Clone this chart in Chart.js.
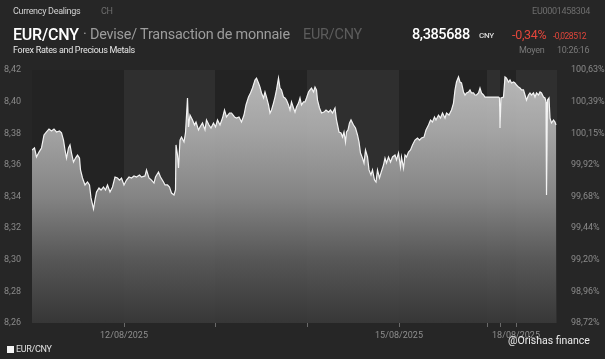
<!DOCTYPE html>
<html>
<head>
<meta charset="utf-8">
<script src="https://cdn.jsdelivr.net/npm/chart.js@4.4.1/dist/chart.umd.min.js"></script>
<style>
  html, body { margin: 0; padding: 0; background: #262626; }
  body { width: 605px; height: 359px; position: relative; overflow: hidden; font-family: Roboto, 'Noto Sans', sans-serif; }
  canvas { position: absolute; left: 0; top: 0; }
  .t { position: absolute; white-space: nowrap; line-height: 1; }
  .small { font-size: 9px; letter-spacing: -0.3px; }
  .big { font-size: 16px; letter-spacing: -0.2px; }
</style>
</head>
<body>
<canvas id="chart" width="605" height="359"></canvas>

<div class="t small" style="left:13px; top:7px; color:#d2d2d2">Currency Dealings</div>
<div class="t small" style="left:101px; top:7px; color:#6e6e6e">CH</div>
<div class="t small" style="right:15px; top:7px; color:#6e6e6e">EU0001458304</div>

<div class="t big" style="left:13px; top:27px; color:#fff; font-weight:500">EUR/CNY</div>
<div class="t" style="left:83px; top:28px; color:#9c9c9c; font-size:14.4px; letter-spacing:-0.2px">· Devise/ Transaction de monnaie</div>
<div class="t" style="left:303px; top:28px; color:#5c5c5c; font-size:14.4px; letter-spacing:-0.2px">EUR/CNY</div>
<div class="t" style="left:412px; top:28px; color:#fff; font-weight:500; font-size:14.5px; letter-spacing:-0.4px">8,385688</div>
<div class="t" style="left:479px; top:32px; color:#dcdcdc; font-weight:500; font-size:8px; letter-spacing:-0.3px">CNY</div>
<div class="t" style="left:512px; top:29px; color:#e2463b; font-size:12.5px; letter-spacing:-0.3px">-0,34%</div>
<div class="t" style="left:553px; top:32px; color:#e2463b; font-size:8.5px; letter-spacing:-0.5px">-0,028512</div>

<div class="t small" style="left:13px; top:46px; color:#e6e6e6">Forex Rates and Precious Metals</div>
<div class="t small" style="left:519px; top:46px; color:#7a7a7a">Moyen</div>
<div class="t small" style="left:557px; top:46px; color:#7a7a7a">10:26:16</div>

<div class="t" style="left:7px; top:346px; width:7px; height:7px; background:#f4f4f4"></div>
<div class="t small" style="left:16px; top:345px; color:#e0e0e0">EUR/CNY</div>
<div class="t" style="left:508px; top:336px; color:#ececec; font-size:10.5px">@Orishas finance</div>

<script>
// observation index along the x axis (weekends are compressed, as in the source chart)
const obsIndex = [
  0, 2.5, 4.5, 7, 9.5, 12, 14.5, 17, 19.5, 22, 24.5, 27.5, 29.5, 31.5, 33, 34.5, 36.5, 38, 39.5, 41.5,
  43.5, 45.5, 47.5, 48.5, 50.5, 53, 55.5, 57.5, 59, 61.5, 63, 64.5, 67, 69, 71.5, 73.5, 75.5, 78, 80.5, 83,
  85.5, 87.5, 89.5, 92, 94.5, 97, 99.5, 102, 104.5, 107.5, 109.5, 113, 114.5, 117, 119.5, 122, 123.5, 126.5, 128.5, 131.5,
  133, 135.5, 137.5, 139.5, 142, 143.5, 144, 145.5, 146.5, 148, 149.5, 152, 153.5, 155.5, 156.5, 158, 160.5, 162.5, 164, 166.5,
  168, 170.5, 173, 174.5, 177, 179, 181.5, 183.5, 185.5, 188, 190.5, 192.5, 194.5, 197.5, 199.5, 202.5, 204.5, 207, 209.5, 212,
  214, 216.5, 218.5, 220.5, 223, 224.5, 226.5, 228, 229.5, 231.5, 233, 234.5, 236.5, 238, 239.5, 241.5, 243, 244.5, 246.5, 248,
  249.5, 251.5, 253, 254.5, 256.5, 258, 259.5, 261.5, 263, 264.5, 266.5, 268, 269.5, 271.5, 273, 274.5, 276.5, 278, 279.5, 281.5,
  283, 284.5, 285.5, 287.5, 289.5, 292, 294, 296.5, 298.5, 300.5, 303, 304.5, 307, 309, 310.5, 312, 313.5, 314.5, 316, 317.5,
  319, 321.5, 323.5, 325.5, 327, 328.5, 330.5, 332, 333.5, 335.5, 337, 339, 340.5, 342.5, 344, 345.5, 347.5, 349, 351.5, 353,
  354.5, 356.5, 358.5, 360.5, 363, 364.5, 366.5, 368.5, 369.5, 371.5, 373, 374.5, 376.5, 378.5, 380.5, 383, 385.5, 387.5, 389.5, 392,
  394, 396.5, 398.5, 400.5, 402.5, 404, 406.5, 408.5, 410.5, 413, 414.5, 417, 418, 419.5, 421.5, 423, 424.5, 426.5, 428, 429.5,
  431.5, 433, 434.5, 436.5, 438, 439.5, 441.5, 443, 444.5, 446.5, 448, 449.5, 451.5, 453, 454.5, 461.5, 466.5, 467.5, 468, 469,
  471.5, 473, 474.5, 476.5, 478, 479.5, 481.5, 483, 484.5, 486.5, 488, 489.5, 491.5, 493, 494.5, 496.5, 498, 499.5, 501.5, 503,
  504.5, 506.5, 508, 509.5, 511.5, 513, 514, 514.5, 515.5, 517, 518, 519.5, 521.5, 523, 524,
]

const eurCny = [
  8.3694, 8.3707, 8.3650, 8.3681, 8.3707, 8.3789, 8.3808, 8.3827, 8.3814, 8.3827, 8.3808, 8.3814, 8.3802, 8.3757, 8.3694, 8.3643, 8.3707, 8.3726, 8.3675, 8.3618,
  8.3643, 8.3662, 8.3643, 8.3568, 8.3517, 8.3473, 8.3492, 8.3473, 8.3391, 8.3321, 8.3378, 8.3428, 8.3454, 8.3441, 8.3460, 8.3441, 8.3473, 8.3428, 8.3460, 8.3523,
  8.3517, 8.3504, 8.3517, 8.3473, 8.3504, 8.3523, 8.3517, 8.3530, 8.3523, 8.3536, 8.3523, 8.3530, 8.3568, 8.3517, 8.3504, 8.3485, 8.3523, 8.3555, 8.3523, 8.3492,
  8.3473, 8.3473, 8.3460, 8.3422, 8.3410, 8.3441, 8.3726, 8.3662, 8.3580, 8.3757, 8.3776, 8.3745, 8.3802, 8.4023, 8.3840, 8.3915, 8.3884, 8.3852, 8.3871, 8.3821,
  8.3840, 8.3865, 8.3821, 8.3884, 8.3852, 8.3833, 8.3865, 8.3840, 8.3884, 8.3852, 8.3896, 8.3947, 8.3903, 8.3928, 8.3928, 8.3903, 8.3896, 8.3903, 8.3871, 8.3915,
  8.3979, 8.4029, 8.4055, 8.4086, 8.4137, 8.4149, 8.4118, 8.4092, 8.4055, 8.4023, 8.4061, 8.4029, 8.3979, 8.3928, 8.3947, 8.3991, 8.4029, 8.4074, 8.4149, 8.4086,
  8.4074, 8.4029, 8.4023, 8.4010, 8.3979, 8.3947, 8.3998, 8.3960, 8.3934, 8.3966, 8.3991, 8.4023, 8.3979, 8.3998, 8.3998, 8.4023, 8.4061, 8.4074, 8.4086, 8.4061,
  8.4092, 8.4074, 8.4010, 8.3960, 8.3928, 8.3934, 8.3947, 8.3934, 8.3947, 8.3928, 8.3960, 8.3884, 8.3808, 8.3802, 8.3776, 8.3808, 8.3745, 8.3808, 8.3821, 8.3865,
  8.3884, 8.3852, 8.3833, 8.3789, 8.3745, 8.3675, 8.3643, 8.3612, 8.3694, 8.3650, 8.3568, 8.3536, 8.3568, 8.3504, 8.3492, 8.3568, 8.3517, 8.3549, 8.3599, 8.3643,
  8.3612, 8.3650, 8.3618, 8.3650, 8.3662, 8.3631, 8.3675, 8.3587, 8.3650, 8.3580, 8.3662, 8.3650, 8.3681, 8.3694, 8.3726, 8.3757, 8.3770, 8.3757, 8.3770, 8.3776,
  8.3821, 8.3852, 8.3884, 8.3871, 8.3903, 8.3884, 8.3915, 8.3896, 8.3928, 8.3896, 8.3928, 8.3915, 8.3928, 8.3947, 8.3991, 8.4074, 8.4124, 8.4156, 8.4124, 8.4118,
  8.4061, 8.4042, 8.4055, 8.4061, 8.4074, 8.4055, 8.4055, 8.4042, 8.4042, 8.4055, 8.4086, 8.4055, 8.4042, 8.4029, 8.4029, 8.4029, 8.4029, 8.4023, 8.3833, 8.4023,
  8.4029, 8.4156, 8.4149, 8.4124, 8.4137, 8.4118, 8.4124, 8.4118, 8.4105, 8.4092, 8.4086, 8.4074, 8.4074, 8.4042, 8.4010, 8.4042, 8.4055, 8.4042, 8.4055, 8.4029,
  8.4055, 8.4042, 8.4061, 8.4055, 8.4029, 8.4023, 8.3998, 8.3410, 8.4010, 8.4023, 8.3896, 8.3865, 8.3884, 8.3871, 8.3852,
]

// day boundaries on the observation index, and their dates
const dayStarts = [0, 92, 183, 275, 367, 455, 468, 484]
const dayNames = ['11/08/2025', '12/08/2025', '13/08/2025', '14/08/2025', '15/08/2025', '16/08/2025', '17/08/2025', '18/08/2025']
const shownDays = ['12/08/2025', '15/08/2025', '18/08/2025']
const lastIndex = 525

const priceTicks = [8.26, 8.28, 8.30, 8.32, 8.34, 8.36, 8.38, 8.40, 8.42]
const pctTicks = ['98,72%', '98,96%', '99,20%', '99,44%', '99,68%', '99,92%', '100,15%', '100,39%', '100,63%']

const points = []
for (let i = 0; i < eurCny.length; i++) {
  points.push({ x: obsIndex[i], y: eurCny[i] })
}

// dark plot background with lighter stripes on every other day
const dayBands = {
  id: 'dayBands',
  beforeDatasetsDraw (chart) {
    const { ctx, chartArea: a, scales } = chart
    ctx.save()
    ctx.fillStyle = '#232323'
    ctx.fillRect(a.left, a.top, a.right - a.left, a.bottom - a.top)
    ctx.fillStyle = '#2f2f2f'
    for (let i = 1; i < dayStarts.length; i += 2) {
      const x0 = scales.x.getPixelForValue(dayStarts[i])
      const end = i + 1 < dayStarts.length ? dayStarts[i + 1] : lastIndex
      const x1 = scales.x.getPixelForValue(end)
      ctx.fillRect(x0, a.top, x1 - x0, a.bottom - a.top)
    }
    ctx.restore()
  },
}

function areaFill (context) {
  const a = context.chart.chartArea
  if (!a) return 'rgba(160,160,160,0.9)'
  const g = context.chart.ctx.createLinearGradient(0, a.top, 0, a.bottom)
  g.addColorStop(0, 'rgba(196,196,196,0.93)')
  g.addColorStop(0.25, 'rgba(172,172,172,0.93)')
  g.addColorStop(0.5, 'rgba(140,140,140,0.92)')
  g.addColorStop(0.75, 'rgba(92,92,92,0.9)')
  g.addColorStop(1, 'rgba(56,56,56,0.9)')
  return g
}

const config = {
  type: 'line',
  data: {
    datasets: [{
      label: 'EUR/CNY',
      data: points,
      borderColor: '#f3f3f3',
      borderWidth: 1.2,
      backgroundColor: areaFill,
      fill: 'start',
      pointRadius: 0,
      tension: 0,
    }],
  },
  options: {
    responsive: false,
    animation: false,
    devicePixelRatio: 1,
    layout: {
      padding: { top: 70, left: 0, right: 0, bottom: 0 },
    },
    plugins: {
      legend: { display: false },
      tooltip: { enabled: false },
    },
    scales: {
      x: {
        type: 'linear',
        min: 0,
        max: lastIndex,
        afterFit: function (s) { s.height = 36 },
        afterBuildTicks: function (s) {
          s.ticks = dayStarts.slice(1).map(v => ({ value: v }))
        },
        ticks: {
          autoSkip: false,
          maxRotation: 0,
          padding: 3,
          color: '#8e8e8e',
          font: { family: 'Roboto', size: 9 },
          callback: function (value) {
            const name = dayNames[dayStarts.indexOf(value)]
            return shownDays.includes(name) ? name : ''
          },
        },
        grid: {
          drawOnChartArea: false,
          drawTicks: true,
          tickLength: 4,
          color: '#6a6a6a',
        },
        border: { display: false },
      },
      y: {
        position: 'left',
        min: 8.26,
        max: 8.42,
        afterFit: function (s) { s.width = 32 },
        afterBuildTicks: function (s) {
          s.ticks = priceTicks.map(v => ({ value: v }))
        },
        ticks: {
          padding: 3,
          color: '#8a8a8a',
          font: { family: 'Roboto', size: 9 },
          callback: function (value) {
            return value.toFixed(2).replace('.', ',')
          },
        },
        grid: { display: false },
        border: { display: false },
      },
      y2: {
        position: 'right',
        min: 8.26,
        max: 8.42,
        afterFit: function (s) { s.width = 48 },
        afterBuildTicks: function (s) {
          s.ticks = priceTicks.map(v => ({ value: v }))
        },
        ticks: {
          padding: 6,
          color: '#8a8a8a',
          font: { family: 'Roboto', size: 9 },
          callback: function (value, index) {
            return pctTicks[index]
          },
        },
        grid: { display: false },
        border: { display: false },
      },
    },
  },
  plugins: [dayBands],
}

const ctx = document.getElementById('chart').getContext('2d')
const myChart = new Chart(ctx, config)
</script>
</body>
</html>
